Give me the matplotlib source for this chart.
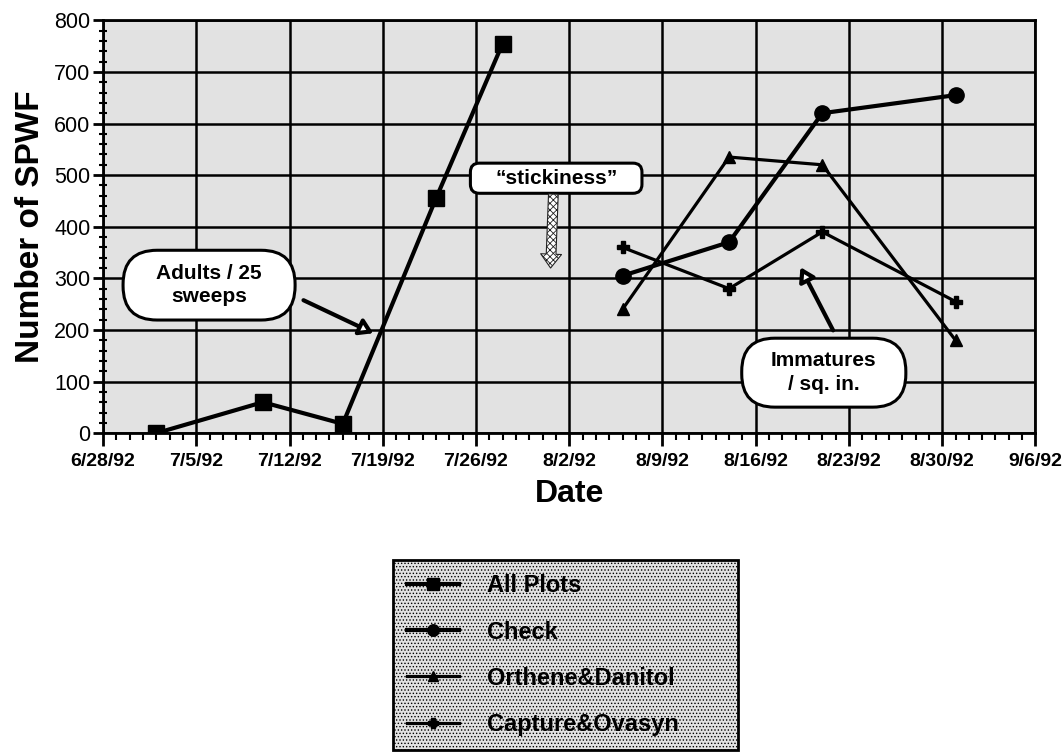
import datetime as dt

import matplotlib.pyplot as plt
import matplotlib.dates as mdates
from matplotlib.patches import FancyBboxPatch
from matplotlib.transforms import IdentityTransform
from matplotlib.ticker import MultipleLocator, FuncFormatter

plt.rcParams['font.family'] = ['Liberation Sans', 'DejaVu Sans']
plt.rcParams['hatch.color'] = '#8a8a8a'
plt.rcParams['hatch.linewidth'] = 0.6

# data
all_dates = ['1992-07-02', '1992-07-10', '1992-07-16', '1992-07-23', '1992-07-28']
all_plots = [0, 60, 18, 455, 755]
trt_dates = ['1992-08-06', '1992-08-14', '1992-08-21', '1992-08-31']
check = [305, 370, 620, 655]
orthene = [240, 535, 520, 180]
capture = [360, 280, 390, 255]


def to_dt(lst):
    return [dt.datetime.strptime(s, '%Y-%m-%d') for s in lst]


fg = plt.figure(figsize=(10.62, 7.52), dpi=100)
ax = fg.add_axes([0.097, 0.424, 0.878, 0.549])
ax.set_facecolor('#e2e2e2')
ax.patch.set_hatch('.....')

ax.plot(to_dt(all_dates), all_plots, color='black', lw=3, marker='s', ms=11,
        label='All Plots', zorder=5)
ax.plot(to_dt(trt_dates), check, color='black', lw=3, marker='o', ms=11,
        label='Check', zorder=5)
ax.plot(to_dt(trt_dates), orthene, color='black', lw=2.3, marker='^', ms=9,
        label='Orthene&Danitol', zorder=5)
ax.plot(to_dt(trt_dates), capture, color='black', lw=2.3, marker='P', ms=9,
        label='Capture&Ovasyn', zorder=5)

ax.set_xlim(dt.datetime(1992, 6, 28), dt.datetime(1992, 9, 6))
ax.set_ylim(0, 800)
ax.set_xticks([mdates.date2num(dt.datetime(1992, 6, 28) + dt.timedelta(days=7 * i))
               for i in range(11)])
ax.xaxis.set_minor_locator(MultipleLocator(1))


def fmt(v, pos):
    d = mdates.num2date(v)
    return f"{d.month}/{d.day}/{d.year % 100}"


ax.xaxis.set_major_formatter(FuncFormatter(fmt))
ax.yaxis.set_major_locator(MultipleLocator(100))
ax.yaxis.set_minor_locator(MultipleLocator(20))

ax.grid(True, which='major', color='black', lw=1.8)
ax.set_axisbelow(True)
for s in ax.spines.values():
    s.set_linewidth(2)

ax.tick_params(axis='x', which='major', direction='out', length=9, width=2,
               labelsize=14, pad=5)
ax.tick_params(axis='x', which='minor', direction='out', length=5, width=1.5)
ax.tick_params(axis='y', which='major', direction='out', length=7, width=2,
               labelsize=15.5, pad=2)
ax.tick_params(axis='y', which='minor', direction='inout', length=6, width=1.5)
for t in ax.get_xticklabels():
    t.set_fontweight('bold')
    t.set_family(['Liberation Sans Narrow', 'Liberation Sans'])

ax.set_ylabel('Number of SPWF', fontsize=24, fontweight='bold', labelpad=6)
ax.set_xlabel('Date', fontsize=23, fontweight='bold', labelpad=7)


# call-outs: rounded boxes given in axes fraction, drawn in pixels
def callout(x0, y0, x1, y1, r, txt):
    (px0, py0), (px1, py1) = ax.transAxes.transform([(x0, y0), (x1, y1)])
    ax.add_patch(FancyBboxPatch((px0, py0), px1 - px0, py1 - py0,
                                boxstyle=f'round,pad=0,rounding_size={r}',
                                transform=IdentityTransform(), fc='white',
                                ec='black', lw=2.2, zorder=7, clip_on=False))
    ax.text((x0 + x1) / 2, (y0 + y1) / 2, txt, transform=ax.transAxes,
            ha='center', va='center', fontsize=15, fontweight='bold',
            linespacing=1.3, zorder=8)


callout(0.0215, 0.274, 0.206, 0.443, 34, 'Adults / 25\nsweeps')
callout(0.685, 0.063, 0.861, 0.230, 33, 'Immatures\n/ sq. in.')
callout(0.394, 0.581, 0.578, 0.654, 9, '\u201cstickiness\u201d')

arw = dict(arrowstyle='-|>,head_length=0.8,head_width=0.5', fc='white',
           ec='black', lw=3, shrinkA=0, shrinkB=0)
ax.annotate('', xy=(0.290, 0.242), xytext=(0.215, 0.322), xycoords='axes fraction',
            arrowprops=arw, zorder=8)
ax.annotate('', xy=(0.748, 0.402), xytext=(0.783, 0.249), xycoords='axes fraction',
            arrowprops=arw, zorder=8)
ax.annotate('', xy=(0.480, 0.400), xytext=(0.483, 0.579), xycoords='axes fraction',
            arrowprops=dict(arrowstyle='simple,head_width=1.5,head_length=1.0,tail_width=0.7',
                            fc='white', ec='#222222', lw=0.8, hatch='xxxxx',
                            shrinkA=0, shrinkB=0), zorder=8)

leg = fg.legend(loc='upper left', bbox_to_anchor=(0.370, 0.005, 0.325, 0.25),
                mode='expand', prop={'weight': 'bold', 'size': 17},
                handlelength=2.2, labelspacing=0.98, borderpad=0.6,
                handletextpad=1.2, fancybox=False, borderaxespad=0,
                markerscale=0.75)
fr = leg.get_frame()
fr.set_edgecolor('black')
fr.set_linewidth(2)
fr.set_facecolor('#e2e2e2')
fr.set_hatch('.....')
fr.set_alpha(1)

fg.savefig('out.png', dpi=100)
